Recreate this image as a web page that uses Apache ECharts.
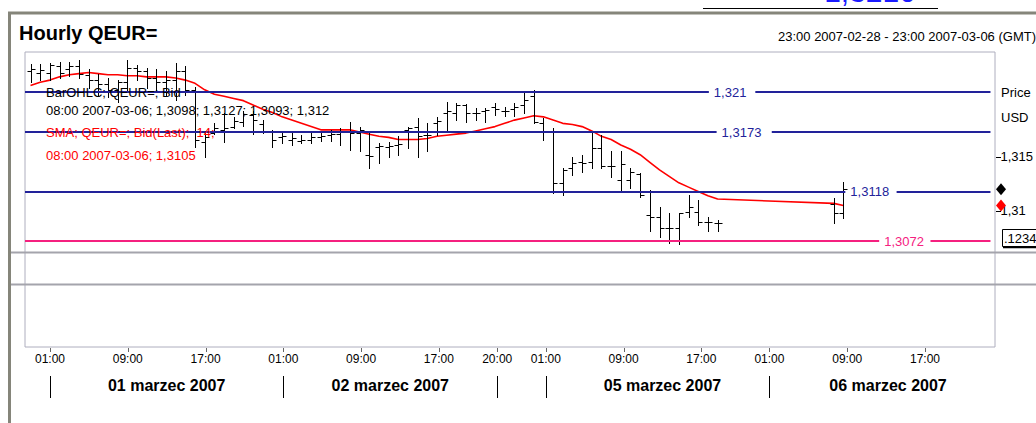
<!DOCTYPE html>
<html><head><meta charset="utf-8">
<script src="https://cdn.jsdelivr.net/npm/echarts@6/dist/echarts.min.js"></script>
<style>html,body{margin:0;padding:0;background:#fff;overflow:hidden}#c{width:1036px;height:423px}</style>
</head><body><div id="c"></div>
<script>
// ---- data (hour slots on a trading-hour axis) ----
const barSlots = [0,1,2,3,4,5,6,7,8,9,10,11,12,13,14,15,16,17,18,19,20,21,22,23,24,25,26,27,28,29,30,31,32,33,34,35,36,37,38,39,40,41,42,43,44,45,46,47,48,49,50,51,52,53,54,55,56,57,58,59,60,61,62,63,64,65,66,67,68,69,70,71,83,84];
const opens = [1.3229,1.3228,1.3228,1.3234,1.3231,1.3234,1.3226,1.3221,1.3217,1.3212,
1.3219,1.3232,1.3229,1.3223,1.3219,1.3221,1.3229,1.3212,1.3164,1.3172,
1.3175,1.3178,1.3182,1.3189,1.3180,1.3173,1.3168,1.3166,1.3165,1.3166,
1.3168,1.3170,1.3171,1.3173,1.3172,1.3152,1.3159,1.3159,1.3161,1.3175,
1.3178,1.3170,1.3181,1.3191,1.3191,1.3198,1.3191,1.3192,1.3196,1.3192,
1.3194,1.3198,1.3206,1.3181,1.3173,1.3126,1.3140,1.3145,1.3145,1.3158,
1.3142,1.3129,1.3129,1.3134,1.3096,1.3094,1.3084,1.3084,1.3099,1.3099,
1.3090,1.3089,1.3106,1.3098];
const highs = [1.3236,1.3236,1.3237,1.3238,1.3238,1.3240,1.3231,1.3227,1.3223,1.3221,
1.3240,1.3235,1.3232,1.3231,1.3229,1.3237,1.3234,1.3215,1.3173,1.3181,
1.3191,1.3187,1.3192,1.3192,1.3184,1.3175,1.3172,1.3172,1.3170,1.3172,
1.3174,1.3175,1.3177,1.3182,1.3178,1.3172,1.3163,1.3164,1.3169,1.3178,
1.3186,1.3181,1.3187,1.3201,1.3200,1.3199,1.3195,1.3195,1.3200,1.3196,
1.3200,1.3210,1.3212,1.3186,1.3177,1.3140,1.3150,1.3152,1.3173,1.3170,
1.3155,1.3155,1.3140,1.3135,1.3119,1.3104,1.3098,1.3098,1.3115,1.3110,
1.3094,1.3092,1.3112,1.3127];
const lows = [1.3219,1.3221,1.3221,1.3223,1.3225,1.3223,1.3214,1.3206,1.3205,1.3201,
1.3210,1.3221,1.3214,1.3210,1.3206,1.3203,1.3207,1.3159,1.3150,1.3171,
1.3164,1.3177,1.3179,1.3171,1.3172,1.3159,1.3163,1.3161,1.3163,1.3163,
1.3165,1.3165,1.3161,1.3156,1.3155,1.3140,1.3144,1.3150,1.3152,1.3158,
1.3150,1.3155,1.3170,1.3175,1.3184,1.3182,1.3184,1.3182,1.3189,1.3188,
1.3188,1.3191,1.3181,1.3166,1.3117,1.3115,1.3133,1.3136,1.3140,1.3140,
1.3131,1.3119,1.3121,1.3113,1.3081,1.3076,1.3070,1.3069,1.3094,1.3087,
1.3081,1.3081,1.3089,1.3093];
const closes = [1.3231,1.3230,1.3235,1.3228,1.3234,1.3227,1.3221,1.3217,1.3212,1.3219,
1.3232,1.3229,1.3223,1.3219,1.3221,1.3229,1.3212,1.3166,1.3168,1.3177,
1.3177,1.3183,1.3190,1.3184,1.3174,1.3166,1.3169,1.3167,1.3166,1.3168,
1.3169,1.3171,1.3173,1.3172,1.3175,1.3151,1.3160,1.3160,1.3162,1.3177,
1.3169,1.3170,1.3183,1.3192,1.3198,1.3191,1.3191,1.3193,1.3194,1.3192,
1.3196,1.3203,1.3182,1.3174,1.3126,1.3138,1.3144,1.3144,1.3158,1.3142,
1.3142,1.3143,1.3136,1.3115,1.3094,1.3084,1.3084,1.3098,1.3104,1.3090,
1.3090,1.3089,1.3098,1.3120];
const sma14 = [1.3216,1.3219,1.3221,1.3224,1.3226,1.3227,1.3228,1.3227,1.3226,1.3226,
1.3225,1.3225,1.3224,1.3224,1.3224,1.3223,1.3221,1.3218,1.3212,1.3208,
1.3206,1.3204,1.3202,1.3198,1.3194,1.3191,1.3187,1.3184,1.3181,1.3178,
1.3175,1.3175,1.3175,1.3175,1.3173,1.3171,1.3169,1.3168,1.3166,1.3166,
1.3166,1.3167,1.3169,1.3170,1.3171,1.3172,1.3174,1.3176,1.3178,1.3181,
1.3184,1.3186,1.3188,1.3187,1.3184,1.3181,1.3180,1.3178,1.3174,1.3169,
1.3166,1.3161,1.3157,1.3152,1.3145,1.3138,1.3132,1.3126,1.3122,1.3118,
1.3114,1.3111,1.3107,1.3105];
const levels = [1.321, 1.3173, 1.3118, 1.3072];
const levelTexts = ['1,321', '1,3173', '1,3118', '1,3072'];
const timeTickSlots = [2,10,18,26,34,42,48,53,61,69,76,84,92];
const timeTickLabels = ['01:00','09:00','17:00','01:00','09:00','17:00','20:00','01:00','09:00','17:00','01:00','09:00','17:00'];
const dayLabelSlots = [14,37,65,88.2];
const dayLabels = ['01 marzec 2007','02 marzec 2007','05 marzec 2007','06 marzec 2007'];
const daySeparatorSlots = [2,26,48,53,76];
const priceTicks = [1.315, 1.31];

// ---- layout / style ----
const levelColors = ['#22229a','#22229a','#22229a','#f5207f'];
const levelGaps = [[70.1,74.9],[70.9,76.6],[84.2,89.5],[87.7,93.0]];
const XMIN = -0.57, XMAX = 99.2;
const F = '"Liberation Sans", Arial, sans-serif';

const chart = echarts.init(document.getElementById('c'), null, {renderer:'svg'});

const ohlcData = barSlots.map((s,i)=>[s, opens[i], highs[i], lows[i], closes[i]]);
const smaData = barSlots.map((s,i)=>[s, sma14[i]]);

function renderOHLC(params, api){
  const x = api.value(0);
  const pO = api.coord([x, api.value(1)]);
  const pH = api.coord([x, api.value(2)]);
  const pL = api.coord([x, api.value(3)]);
  const pC = api.coord([x, api.value(4)]);
  const cx = Math.round(pO[0]) + 0.5;
  const yo = Math.round(pO[1]) + 0.5, yc = Math.round(pC[1]) + 0.5;
  const st = {stroke:'#000', lineWidth:1};
  return {type:'group', children:[
    {type:'line', shape:{x1:cx, y1:Math.round(pH[1]), x2:cx, y2:Math.round(pL[1])+1}, style:st},
    {type:'line', shape:{x1:cx-4, y1:yo, x2:cx, y2:yo}, style:st},
    {type:'line', shape:{x1:cx, y1:yc, x2:cx+4, y2:yc}, style:st}
  ]};
}

const markData = [];
levels.forEach((v,i)=>{
  const c = levelColors[i];
  markData.push([{coord:[XMIN, v], lineStyle:{color:c, width:2, type:'solid'},
      label:{show:true, position:'end', formatter:levelTexts[i], color:c, fontSize:13, fontFamily:F, distance:5}},
    {coord:[levelGaps[i][0], v]}]);
  markData.push([{coord:[levelGaps[i][1], v], lineStyle:{color:c, width:2, type:'solid'}, label:{show:false}},
    {coord:[XMAX, v]}]);
});

const option = {
  animation:false,
  backgroundColor:'#fff',
  title:{text:'Hourly QEUR=', left:19, top:23, padding:0,
    textStyle:{fontFamily:F, fontSize:20, fontWeight:'bold', color:'#000'}},
  grid:[
    {left:25, right:41, top:52, height:200, show:false},
    {left:25, right:41, top:52, bottom:76, show:true, borderColor:'#aeaebe', borderWidth:1, backgroundColor:'transparent'}
  ],
  xAxis:[
    {gridIndex:0, type:'value', min:XMIN, max:XMAX, show:false},
    {gridIndex:1, type:'value', min:XMIN, max:XMAX, position:'bottom',
      axisLine:{show:false}, splitLine:{show:false}, axisTick:{show:false},
      axisLabel:{customValues:timeTickSlots, margin:6, fontFamily:F, fontSize:12, color:'#000',
        formatter:(v)=>{const k=timeTickSlots.indexOf(v); return k>=0?timeTickLabels[k]:'';}}},
    {gridIndex:1, type:'value', min:XMIN, max:XMAX, position:'bottom', offset:29,
      axisLine:{show:false}, splitLine:{show:false},
      axisTick:{show:true, customValues:daySeparatorSlots, length:22, lineStyle:{color:'#000', width:1}},
      axisLabel:{customValues:dayLabelSlots, margin:1, fontFamily:F, fontSize:16, fontWeight:'bold', color:'#000',
        formatter:(v)=>{const k=dayLabelSlots.indexOf(v); return k>=0?dayLabels[k]:'';}}}
  ],
  yAxis:[
    {gridIndex:0, type:'value', min:1.3062, max:1.3247, position:'right',
      axisLine:{show:false}, splitLine:{show:false}, axisTick:{show:false},
      axisLabel:{customValues:priceTicks, margin:10, fontFamily:F, fontSize:13, color:'#000',
        formatter:(v)=>String(v).replace('.', ',')}},
    {gridIndex:1, type:'value', show:false}
  ],
  series:[
    {name:'levels', type:'line', xAxisIndex:0, yAxisIndex:0, data:[], silent:true,
      markLine:{symbol:['none','none'], silent:true, animation:false, data:markData}},
    {name:'SMA', type:'line', xAxisIndex:0, yAxisIndex:0, data:smaData, showSymbol:false,
      lineStyle:{color:'#ff0000', width:1.6}, z:3, silent:true},
    {name:'BarOHLC', type:'custom', xAxisIndex:0, yAxisIndex:0, data:ohlcData,
      encode:{x:0, y:[1,2,3,4]}, renderItem:renderOHLC, z:4, silent:true}
  ]
};
chart.setOption(option);

const lastClose = closes[closes.length-1];
const lastSma = sma14[sma14.length-1];
const yClose = chart.convertToPixel({yAxisIndex:0}, lastClose);
const ySma = chart.convertToPixel({yAxisIndex:0}, lastSma);
function diamond(cx, cy, color){
  return {type:'polygon', z:100, shape:{points:[[cx,cy-6],[cx+5,cy],[cx,cy+6],[cx-5,cy]]}, style:{fill:color}};
}
const t = (x,y,text,opt)=>Object.assign({type:'text', x, y, z:100,
  style:Object.assign({text, font:'13px '+F, fill:'#000', verticalAlign:'middle', align:'left'}, opt||{})});
// axis ticks placed through the axes' own scales
const priceTickEls = priceTicks.map(v=>{
  const y = Math.round(chart.convertToPixel({yAxisIndex:0}, v)) + 0.5;
  return {type:'line', z:100, shape:{x1:996, y1:y, x2:1001, y2:y}, style:{stroke:'#000', lineWidth:1}};
});
const timeTickEls = timeTickSlots.map(s=>{
  const x = Math.round(chart.convertToPixel({xAxisIndex:1}, s)) + 0.5;
  return {type:'line', z:100, shape:{x1:x, y1:348, x2:x, y2:352}, style:{stroke:'#666', lineWidth:1}};
});
chart.setOption({graphic:[
  // outer frame
  {type:'line', z:100, shape:{x1:8, y1:13, x2:1036, y2:13}, style:{stroke:'#85857a', lineWidth:3}},
  {type:'line', z:100, shape:{x1:9.5, y1:12, x2:9.5, y2:423}, style:{stroke:'#85857a', lineWidth:3}},
  // pane separators
  {type:'line', z:100, shape:{x1:11, y1:252.5, x2:1036, y2:252.5}, style:{stroke:'#a4a4ac', lineWidth:2}},
  {type:'line', z:100, shape:{x1:11, y1:284.5, x2:1036, y2:284.5}, style:{stroke:'#a4a4ac', lineWidth:2}},
  // cut fragment at the very top
  {type:'line', z:100, shape:{x1:703, y1:8.5, x2:938, y2:8.5}, style:{stroke:'#000', lineWidth:1}},
  t(870, 6, '1,3210', {font:'30px '+F, fill:'#1a1aff', verticalAlign:'bottom', align:'center'}),
  // subtitle
  t(778, 36, '23:00 2007-02-28 - 23:00 2007-03-06 (GMT)'),
  // legend block
  t(46, 92, 'BarOHLC; QEUR=; Bid'),
  t(46, 110, '08:00 2007-03-06; 1,3098; 1,3127; 1,3093; 1,312'),
  t(46, 132, 'SMA; QEUR=; Bid(Last);  14;', {fill:'#ff0000'}),
  t(46, 155, '08:00 2007-03-06; 1,3105', {fill:'#ff0000'}),
  // axis captions
  t(1001, 92, 'Price'),
  t(1001, 117, 'USD'),
  diamond(1001, yClose, '#000'),
  diamond(1001, ySma, '#ff0000'),
  {type:'rect', z:100, shape:{x:1002.5, y:229.5, width:40, height:17}, style:{fill:'#fff', stroke:'#000', lineWidth:1}},
  {type:'line', z:100, shape:{x1:1003, y1:247.5, x2:1036, y2:247.5}, style:{stroke:'#000', lineWidth:1.5}},
  t(1004, 238.5, '.1234')
].concat(priceTickEls, timeTickEls)});
</script>
</body></html>
